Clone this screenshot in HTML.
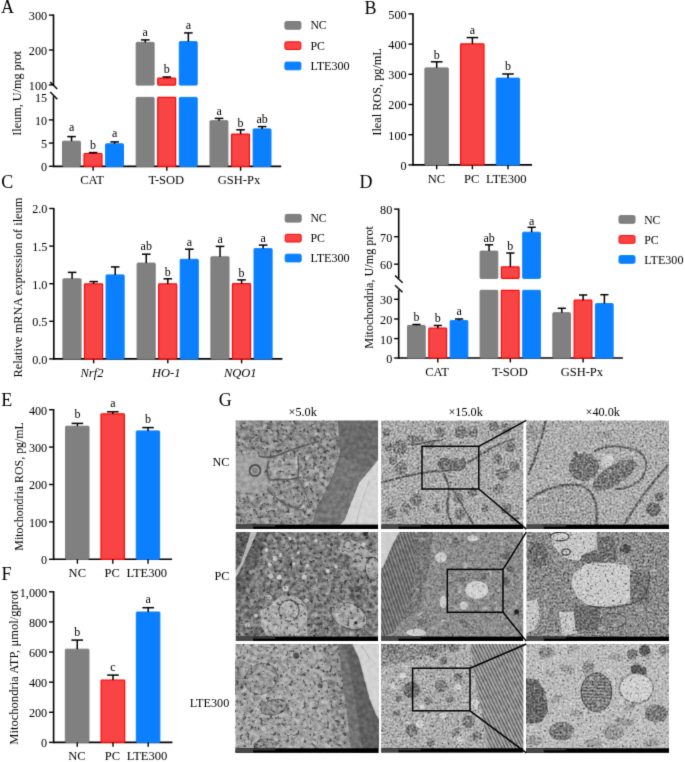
<!DOCTYPE html><html><head><meta charset="utf-8"><style>html,body{margin:0;padding:0;background:#fff;overflow:hidden;}svg{display:block;}#wrap{width:685px;height:762px;will-change:transform;;}text{font-family:"Liberation Serif",serif;fill:#000;}</style></head><body>
<div id="wrap"><svg width="685" height="762" viewBox="0 0 685 762">
<defs><filter id="gblur" x="0" y="0" width="685" height="762" filterUnits="userSpaceOnUse" color-interpolation-filters="sRGB"><feConvolveMatrix order="3" kernelMatrix="0.0144 0.0912 0.0144 0.0912 0.5776 0.0912 0.0144 0.0912 0.0144" edgeMode="duplicate" preserveAlpha="true"/></filter></defs><g filter="url(#gblur)">
<rect width="685" height="762" fill="#fff"/>
<text x="1.00" y="13.40" font-size="18" text-anchor="start">A</text>
<text x="364.40" y="13.50" font-size="18" text-anchor="start">B</text>
<text x="1.20" y="187.60" font-size="18" text-anchor="start">C</text>
<text x="359.60" y="187.60" font-size="18" text-anchor="start">D</text>
<text x="1.20" y="405.70" font-size="18" text-anchor="start">E</text>
<text x="1.40" y="580.00" font-size="18" text-anchor="start">F</text>
<text x="218.80" y="405.70" font-size="18" text-anchor="start">G</text>
<line x1="53.50" y1="14.40" x2="53.50" y2="85.60" stroke="#000" stroke-width="1.6"/>
<line x1="53.50" y1="96.20" x2="53.50" y2="167.20" stroke="#000" stroke-width="1.6"/>
<line x1="50.20" y1="82.00" x2="57.20" y2="89.00" stroke="#000" stroke-width="1.4"/>
<line x1="50.20" y1="92.00" x2="57.40" y2="99.20" stroke="#000" stroke-width="1.4"/>
<line x1="48.90" y1="15.10" x2="53.50" y2="15.10" stroke="#000" stroke-width="1.4"/>
<text x="47.10" y="20.00" font-size="12.2" text-anchor="end">300</text>
<line x1="48.90" y1="50.00" x2="53.50" y2="50.00" stroke="#000" stroke-width="1.4"/>
<text x="47.10" y="54.90" font-size="12.2" text-anchor="end">200</text>
<line x1="48.90" y1="84.90" x2="53.50" y2="84.90" stroke="#000" stroke-width="1.4"/>
<text x="47.10" y="89.80" font-size="12.2" text-anchor="end">100</text>
<text x="47.10" y="101.80" font-size="12.2" text-anchor="end">15</text>
<line x1="48.90" y1="119.90" x2="53.50" y2="119.90" stroke="#000" stroke-width="1.4"/>
<text x="47.10" y="124.80" font-size="12.2" text-anchor="end">10</text>
<line x1="48.90" y1="143.10" x2="53.50" y2="143.10" stroke="#000" stroke-width="1.4"/>
<text x="47.10" y="148.00" font-size="12.2" text-anchor="end">5</text>
<line x1="48.90" y1="166.30" x2="53.50" y2="166.30" stroke="#000" stroke-width="1.4"/>
<text x="47.10" y="171.20" font-size="12.2" text-anchor="end">0</text>
<line x1="53.50" y1="166.40" x2="281.20" y2="166.40" stroke="#000" stroke-width="1.6"/>
<line x1="93.10" y1="166.40" x2="93.10" y2="170.80" stroke="#000" stroke-width="1.4"/>
<text x="92.00" y="184.20" font-size="12.5" text-anchor="middle">CAT</text>
<line x1="166.80" y1="166.40" x2="166.80" y2="170.80" stroke="#000" stroke-width="1.4"/>
<text x="166.30" y="184.20" font-size="12.5" text-anchor="middle">T-SOD</text>
<line x1="240.60" y1="166.40" x2="240.60" y2="170.80" stroke="#000" stroke-width="1.4"/>
<text x="239.00" y="184.20" font-size="12.5" text-anchor="middle">GSH-Px</text>
<rect x="62.50" y="141.20" width="17.90" height="25.20" rx="0.8" fill="#808080" stroke="#7c7c7c" stroke-width="1"/>
<line x1="71.55" y1="136.60" x2="71.55" y2="141.20" stroke="#000" stroke-width="1.5"/>
<line x1="67.25" y1="136.60" x2="75.85" y2="136.60" stroke="#000" stroke-width="1.5"/>
<text x="71.55" y="130.50" font-size="12" text-anchor="middle">a</text>
<rect x="84.05" y="153.50" width="17.90" height="12.90" rx="0.8" fill="#f84444" stroke="#ff0505" stroke-width="1.2"/>
<line x1="93.10" y1="152.60" x2="93.10" y2="153.50" stroke="#000" stroke-width="1.5"/>
<line x1="88.80" y1="152.60" x2="97.40" y2="152.60" stroke="#000" stroke-width="1.5"/>
<text x="93.10" y="148.50" font-size="12" text-anchor="middle">b</text>
<rect x="105.60" y="143.80" width="17.90" height="22.60" rx="0.8" fill="#0a80ff" stroke="#0a80ff" stroke-width="1"/>
<line x1="114.65" y1="141.90" x2="114.65" y2="143.80" stroke="#000" stroke-width="1.5"/>
<line x1="110.35" y1="141.90" x2="118.95" y2="141.90" stroke="#000" stroke-width="1.5"/>
<text x="114.65" y="137.00" font-size="12" text-anchor="middle">a</text>
<rect x="136.20" y="42.40" width="17.90" height="42.70" rx="0.8" fill="#808080" stroke="#7c7c7c" stroke-width="1"/>
<rect x="136.20" y="97.40" width="17.90" height="69.00" rx="0.8" fill="#808080" stroke="#7c7c7c" stroke-width="1"/>
<line x1="145.25" y1="39.90" x2="145.25" y2="42.40" stroke="#000" stroke-width="1.5"/>
<line x1="140.95" y1="39.90" x2="149.55" y2="39.90" stroke="#000" stroke-width="1.5"/>
<text x="145.25" y="35.70" font-size="12" text-anchor="middle">a</text>
<rect x="157.75" y="78.10" width="17.90" height="7.00" rx="0.8" fill="#f84444" stroke="#ff0505" stroke-width="1.2"/>
<rect x="157.75" y="97.40" width="17.90" height="69.00" rx="0.8" fill="#f84444" stroke="#ff0505" stroke-width="1.2"/>
<line x1="166.80" y1="77.00" x2="166.80" y2="78.10" stroke="#000" stroke-width="1.5"/>
<line x1="162.50" y1="77.00" x2="171.10" y2="77.00" stroke="#000" stroke-width="1.5"/>
<text x="166.80" y="73.10" font-size="12" text-anchor="middle">b</text>
<rect x="179.30" y="41.60" width="17.90" height="43.50" rx="0.8" fill="#0a80ff" stroke="#0a80ff" stroke-width="1"/>
<rect x="179.30" y="97.40" width="17.90" height="69.00" rx="0.8" fill="#0a80ff" stroke="#0a80ff" stroke-width="1"/>
<line x1="188.35" y1="32.90" x2="188.35" y2="41.60" stroke="#000" stroke-width="1.5"/>
<line x1="184.05" y1="32.90" x2="192.65" y2="32.90" stroke="#000" stroke-width="1.5"/>
<text x="188.35" y="28.70" font-size="12" text-anchor="middle">a</text>
<rect x="210.00" y="120.70" width="17.90" height="45.70" rx="0.8" fill="#808080" stroke="#7c7c7c" stroke-width="1"/>
<line x1="219.05" y1="118.40" x2="219.05" y2="120.70" stroke="#000" stroke-width="1.5"/>
<line x1="214.75" y1="118.40" x2="223.35" y2="118.40" stroke="#000" stroke-width="1.5"/>
<text x="219.05" y="114.50" font-size="12" text-anchor="middle">a</text>
<rect x="231.55" y="134.10" width="17.90" height="32.30" rx="0.8" fill="#f84444" stroke="#ff0505" stroke-width="1.2"/>
<line x1="240.60" y1="129.80" x2="240.60" y2="134.10" stroke="#000" stroke-width="1.5"/>
<line x1="236.30" y1="129.80" x2="244.90" y2="129.80" stroke="#000" stroke-width="1.5"/>
<text x="240.60" y="127.00" font-size="12" text-anchor="middle">b</text>
<rect x="253.10" y="128.90" width="17.90" height="37.50" rx="0.8" fill="#0a80ff" stroke="#0a80ff" stroke-width="1"/>
<line x1="262.15" y1="126.60" x2="262.15" y2="128.90" stroke="#000" stroke-width="1.5"/>
<line x1="257.85" y1="126.60" x2="266.45" y2="126.60" stroke="#000" stroke-width="1.5"/>
<text x="262.15" y="123.30" font-size="12" text-anchor="middle">ab</text>
<rect x="284.90" y="21.50" width="16.0" height="7.699999999999999" rx="1.5" fill="#808080" stroke="#7c7c7c" stroke-width="1"/>
<text x="310.40" y="29.40" font-size="12.2" text-anchor="start" textLength="16.2" lengthAdjust="spacingAndGlyphs">NC</text>
<rect x="284.90" y="41.80" width="16.0" height="7.699999999999999" rx="1.5" fill="#f84444" stroke="#ff0505" stroke-width="1"/>
<text x="310.40" y="49.70" font-size="12.2" text-anchor="start" textLength="14.5" lengthAdjust="spacingAndGlyphs">PC</text>
<rect x="284.90" y="62.10" width="16.0" height="7.699999999999999" rx="1.5" fill="#0a80ff" stroke="#0a80ff" stroke-width="1"/>
<text x="310.40" y="70.00" font-size="12.2" text-anchor="start" textLength="39.3" lengthAdjust="spacingAndGlyphs">LTE300</text>
<text transform="translate(21.2,93.3) rotate(-90)" font-size="12.4" text-anchor="middle" textLength="85.0" lengthAdjust="spacingAndGlyphs">Ileum, U/mg prot</text>
<line x1="413.00" y1="13.30" x2="413.00" y2="165.70" stroke="#000" stroke-width="1.6"/>
<line x1="408.40" y1="13.90" x2="413.00" y2="13.90" stroke="#000" stroke-width="1.4"/>
<text x="406.60" y="18.80" font-size="12.2" text-anchor="end">500</text>
<line x1="408.40" y1="44.10" x2="413.00" y2="44.10" stroke="#000" stroke-width="1.4"/>
<text x="406.60" y="49.00" font-size="12.2" text-anchor="end">400</text>
<line x1="408.40" y1="74.30" x2="413.00" y2="74.30" stroke="#000" stroke-width="1.4"/>
<text x="406.60" y="79.20" font-size="12.2" text-anchor="end">300</text>
<line x1="408.40" y1="104.50" x2="413.00" y2="104.50" stroke="#000" stroke-width="1.4"/>
<text x="406.60" y="109.40" font-size="12.2" text-anchor="end">200</text>
<line x1="408.40" y1="134.70" x2="413.00" y2="134.70" stroke="#000" stroke-width="1.4"/>
<text x="406.60" y="139.60" font-size="12.2" text-anchor="end">100</text>
<line x1="408.40" y1="164.90" x2="413.00" y2="164.90" stroke="#000" stroke-width="1.4"/>
<text x="406.60" y="169.80" font-size="12.2" text-anchor="end">0</text>
<line x1="413.00" y1="164.90" x2="532.00" y2="164.90" stroke="#000" stroke-width="1.6"/>
<rect x="424.90" y="67.90" width="23.40" height="97.00" rx="0.8" fill="#808080" stroke="#7c7c7c" stroke-width="1"/>
<line x1="436.70" y1="61.80" x2="436.70" y2="67.90" stroke="#000" stroke-width="1.5"/>
<line x1="430.90" y1="61.80" x2="442.50" y2="61.80" stroke="#000" stroke-width="1.5"/>
<text x="436.70" y="58.80" font-size="12" text-anchor="middle">b</text>
<line x1="436.70" y1="164.90" x2="436.70" y2="169.30" stroke="#000" stroke-width="1.4"/>
<rect x="460.60" y="43.90" width="23.40" height="121.00" rx="0.8" fill="#f84444" stroke="#ff0505" stroke-width="1.2"/>
<line x1="472.40" y1="37.60" x2="472.40" y2="43.90" stroke="#000" stroke-width="1.5"/>
<line x1="466.60" y1="37.60" x2="478.20" y2="37.60" stroke="#000" stroke-width="1.5"/>
<text x="472.40" y="34.20" font-size="12" text-anchor="middle">a</text>
<line x1="472.40" y1="164.90" x2="472.40" y2="169.30" stroke="#000" stroke-width="1.4"/>
<rect x="496.20" y="78.10" width="23.40" height="86.80" rx="0.8" fill="#0a80ff" stroke="#0a80ff" stroke-width="1"/>
<line x1="508.00" y1="74.00" x2="508.00" y2="78.10" stroke="#000" stroke-width="1.5"/>
<line x1="502.20" y1="74.00" x2="513.80" y2="74.00" stroke="#000" stroke-width="1.5"/>
<text x="508.00" y="69.80" font-size="12" text-anchor="middle">b</text>
<line x1="508.00" y1="164.90" x2="508.00" y2="169.30" stroke="#000" stroke-width="1.4"/>
<text x="436.40" y="183.30" font-size="12.5" text-anchor="middle">NC</text>
<text x="471.70" y="183.30" font-size="12.5" text-anchor="middle">PC</text>
<text x="506.20" y="183.30" font-size="12.5" text-anchor="middle" textLength="40.6" lengthAdjust="spacingAndGlyphs">LTE300</text>
<text transform="translate(380.8,91.9) rotate(-90)" font-size="12.4" text-anchor="middle" textLength="87.5" lengthAdjust="spacingAndGlyphs">Ileal ROS, pg/mL</text>
<line x1="53.80" y1="207.90" x2="53.80" y2="359.70" stroke="#000" stroke-width="1.6"/>
<line x1="49.20" y1="208.50" x2="53.80" y2="208.50" stroke="#000" stroke-width="1.4"/>
<text x="47.40" y="213.40" font-size="12.2" text-anchor="end">2.0</text>
<line x1="49.20" y1="246.10" x2="53.80" y2="246.10" stroke="#000" stroke-width="1.4"/>
<text x="47.40" y="251.00" font-size="12.2" text-anchor="end">1.5</text>
<line x1="49.20" y1="283.70" x2="53.80" y2="283.70" stroke="#000" stroke-width="1.4"/>
<text x="47.40" y="288.60" font-size="12.2" text-anchor="end">1.0</text>
<line x1="49.20" y1="321.30" x2="53.80" y2="321.30" stroke="#000" stroke-width="1.4"/>
<text x="47.40" y="326.20" font-size="12.2" text-anchor="end">0.5</text>
<line x1="49.20" y1="358.90" x2="53.80" y2="358.90" stroke="#000" stroke-width="1.4"/>
<text x="47.40" y="363.80" font-size="12.2" text-anchor="end">0.0</text>
<line x1="53.80" y1="358.90" x2="282.40" y2="358.90" stroke="#000" stroke-width="1.6"/>
<line x1="93.65" y1="358.90" x2="93.65" y2="363.30" stroke="#000" stroke-width="1.4"/>
<text x="92.00" y="376.90" font-size="12.5" text-anchor="middle" font-style="italic">Nrf2</text>
<line x1="167.80" y1="358.90" x2="167.80" y2="363.30" stroke="#000" stroke-width="1.4"/>
<text x="166.30" y="376.90" font-size="12.5" text-anchor="middle" font-style="italic">HO-1</text>
<line x1="241.60" y1="358.90" x2="241.60" y2="363.30" stroke="#000" stroke-width="1.4"/>
<text x="240.30" y="376.90" font-size="12.5" text-anchor="middle" font-style="italic">NQO1</text>
<rect x="62.95" y="278.80" width="18.10" height="80.10" rx="0.8" fill="#808080" stroke="#7c7c7c" stroke-width="1"/>
<line x1="72.10" y1="272.40" x2="72.10" y2="278.80" stroke="#000" stroke-width="1.5"/>
<line x1="67.80" y1="272.40" x2="76.40" y2="272.40" stroke="#000" stroke-width="1.5"/>
<rect x="84.50" y="283.90" width="18.10" height="75.00" rx="0.8" fill="#f84444" stroke="#ff0505" stroke-width="1.2"/>
<line x1="93.65" y1="281.60" x2="93.65" y2="283.90" stroke="#000" stroke-width="1.5"/>
<line x1="89.35" y1="281.60" x2="97.95" y2="281.60" stroke="#000" stroke-width="1.5"/>
<rect x="106.05" y="274.90" width="18.10" height="84.00" rx="0.8" fill="#0a80ff" stroke="#0a80ff" stroke-width="1"/>
<line x1="115.20" y1="266.90" x2="115.20" y2="274.90" stroke="#000" stroke-width="1.5"/>
<line x1="110.90" y1="266.90" x2="119.50" y2="266.90" stroke="#000" stroke-width="1.5"/>
<rect x="137.10" y="263.10" width="18.10" height="95.80" rx="0.8" fill="#808080" stroke="#7c7c7c" stroke-width="1"/>
<line x1="146.25" y1="254.20" x2="146.25" y2="263.10" stroke="#000" stroke-width="1.5"/>
<line x1="141.95" y1="254.20" x2="150.55" y2="254.20" stroke="#000" stroke-width="1.5"/>
<text x="146.25" y="250.40" font-size="12" text-anchor="middle">ab</text>
<rect x="158.65" y="283.90" width="18.10" height="75.00" rx="0.8" fill="#f84444" stroke="#ff0505" stroke-width="1.2"/>
<line x1="167.80" y1="278.80" x2="167.80" y2="283.90" stroke="#000" stroke-width="1.5"/>
<line x1="163.50" y1="278.80" x2="172.10" y2="278.80" stroke="#000" stroke-width="1.5"/>
<text x="167.80" y="275.70" font-size="12" text-anchor="middle">b</text>
<rect x="180.20" y="259.30" width="18.10" height="99.60" rx="0.8" fill="#0a80ff" stroke="#0a80ff" stroke-width="1"/>
<line x1="189.35" y1="249.20" x2="189.35" y2="259.30" stroke="#000" stroke-width="1.5"/>
<line x1="185.05" y1="249.20" x2="193.65" y2="249.20" stroke="#000" stroke-width="1.5"/>
<text x="189.35" y="246.20" font-size="12" text-anchor="middle">a</text>
<rect x="210.90" y="256.80" width="18.10" height="102.10" rx="0.8" fill="#808080" stroke="#7c7c7c" stroke-width="1"/>
<line x1="220.05" y1="246.40" x2="220.05" y2="256.80" stroke="#000" stroke-width="1.5"/>
<line x1="215.75" y1="246.40" x2="224.35" y2="246.40" stroke="#000" stroke-width="1.5"/>
<text x="220.05" y="242.70" font-size="12" text-anchor="middle">a</text>
<rect x="232.45" y="283.70" width="18.10" height="75.20" rx="0.8" fill="#f84444" stroke="#ff0505" stroke-width="1.2"/>
<line x1="241.60" y1="279.90" x2="241.60" y2="283.70" stroke="#000" stroke-width="1.5"/>
<line x1="237.30" y1="279.90" x2="245.90" y2="279.90" stroke="#000" stroke-width="1.5"/>
<text x="241.60" y="277.10" font-size="12" text-anchor="middle">b</text>
<rect x="254.00" y="248.60" width="18.10" height="110.30" rx="0.8" fill="#0a80ff" stroke="#0a80ff" stroke-width="1"/>
<line x1="263.15" y1="245.10" x2="263.15" y2="248.60" stroke="#000" stroke-width="1.5"/>
<line x1="258.85" y1="245.10" x2="267.45" y2="245.10" stroke="#000" stroke-width="1.5"/>
<text x="263.15" y="242.10" font-size="12" text-anchor="middle">a</text>
<rect x="285.20" y="214.40" width="16.0" height="7.699999999999999" rx="1.5" fill="#808080" stroke="#7c7c7c" stroke-width="1"/>
<text x="310.40" y="222.30" font-size="12.2" text-anchor="start" textLength="16.2" lengthAdjust="spacingAndGlyphs">NC</text>
<rect x="285.20" y="234.30" width="16.0" height="7.699999999999999" rx="1.5" fill="#f84444" stroke="#ff0505" stroke-width="1"/>
<text x="310.40" y="242.20" font-size="12.2" text-anchor="start" textLength="14.5" lengthAdjust="spacingAndGlyphs">PC</text>
<rect x="285.20" y="254.20" width="16.0" height="7.699999999999999" rx="1.5" fill="#0a80ff" stroke="#0a80ff" stroke-width="1"/>
<text x="310.40" y="262.10" font-size="12.2" text-anchor="start" textLength="39.3" lengthAdjust="spacingAndGlyphs">LTE300</text>
<text transform="translate(21.6,287.6) rotate(-90)" font-size="12.4" text-anchor="middle" textLength="180.0" lengthAdjust="spacingAndGlyphs">Relative mRNA expression of ileum</text>
<line x1="398.70" y1="208.50" x2="398.70" y2="278.30" stroke="#000" stroke-width="1.6"/>
<line x1="398.70" y1="289.60" x2="398.70" y2="358.80" stroke="#000" stroke-width="1.6"/>
<line x1="395.00" y1="275.50" x2="402.60" y2="282.80" stroke="#000" stroke-width="1.4"/>
<line x1="395.00" y1="285.20" x2="402.60" y2="292.30" stroke="#000" stroke-width="1.4"/>
<line x1="394.10" y1="209.10" x2="398.70" y2="209.10" stroke="#000" stroke-width="1.4"/>
<text x="392.30" y="214.00" font-size="12.2" text-anchor="end">80</text>
<line x1="394.10" y1="236.70" x2="398.70" y2="236.70" stroke="#000" stroke-width="1.4"/>
<text x="392.30" y="241.60" font-size="12.2" text-anchor="end">70</text>
<line x1="394.10" y1="264.20" x2="398.70" y2="264.20" stroke="#000" stroke-width="1.4"/>
<text x="392.30" y="269.10" font-size="12.2" text-anchor="end">60</text>
<line x1="394.10" y1="299.30" x2="398.70" y2="299.30" stroke="#000" stroke-width="1.4"/>
<text x="392.30" y="304.20" font-size="12.2" text-anchor="end">30</text>
<line x1="394.10" y1="319.00" x2="398.70" y2="319.00" stroke="#000" stroke-width="1.4"/>
<text x="392.30" y="323.90" font-size="12.2" text-anchor="end">20</text>
<line x1="394.10" y1="338.60" x2="398.70" y2="338.60" stroke="#000" stroke-width="1.4"/>
<text x="392.30" y="343.50" font-size="12.2" text-anchor="end">10</text>
<line x1="394.10" y1="358.00" x2="398.70" y2="358.00" stroke="#000" stroke-width="1.4"/>
<text x="392.30" y="362.90" font-size="12.2" text-anchor="end">0</text>
<line x1="398.70" y1="358.00" x2="622.90" y2="358.00" stroke="#000" stroke-width="1.6"/>
<line x1="437.80" y1="358.00" x2="437.80" y2="362.40" stroke="#000" stroke-width="1.4"/>
<text x="437.00" y="375.80" font-size="12.5" text-anchor="middle">CAT</text>
<line x1="510.35" y1="358.00" x2="510.35" y2="362.40" stroke="#000" stroke-width="1.4"/>
<text x="510.00" y="375.80" font-size="12.5" text-anchor="middle">T-SOD</text>
<line x1="583.10" y1="358.00" x2="583.10" y2="362.40" stroke="#000" stroke-width="1.4"/>
<text x="581.90" y="375.80" font-size="12.5" text-anchor="middle">GSH-Px</text>
<rect x="407.55" y="325.40" width="17.70" height="32.60" rx="0.8" fill="#808080" stroke="#7c7c7c" stroke-width="1"/>
<line x1="416.50" y1="324.50" x2="416.50" y2="325.40" stroke="#000" stroke-width="1.5"/>
<line x1="412.40" y1="324.50" x2="420.60" y2="324.50" stroke="#000" stroke-width="1.5"/>
<text x="416.50" y="321.20" font-size="12" text-anchor="middle">b</text>
<rect x="428.85" y="328.20" width="17.70" height="29.80" rx="0.8" fill="#f84444" stroke="#ff0505" stroke-width="1.2"/>
<line x1="437.80" y1="325.50" x2="437.80" y2="328.20" stroke="#000" stroke-width="1.5"/>
<line x1="433.70" y1="325.50" x2="441.90" y2="325.50" stroke="#000" stroke-width="1.5"/>
<text x="437.80" y="322.10" font-size="12" text-anchor="middle">b</text>
<rect x="450.15" y="320.60" width="17.70" height="37.40" rx="0.8" fill="#0a80ff" stroke="#0a80ff" stroke-width="1"/>
<line x1="459.10" y1="319.00" x2="459.10" y2="320.60" stroke="#000" stroke-width="1.5"/>
<line x1="455.00" y1="319.00" x2="463.20" y2="319.00" stroke="#000" stroke-width="1.5"/>
<text x="459.10" y="315.10" font-size="12" text-anchor="middle">a</text>
<rect x="480.10" y="251.10" width="17.70" height="27.30" rx="0.8" fill="#808080" stroke="#7c7c7c" stroke-width="1"/>
<rect x="480.10" y="290.30" width="17.70" height="67.70" rx="0.8" fill="#808080" stroke="#7c7c7c" stroke-width="1"/>
<line x1="489.05" y1="244.80" x2="489.05" y2="251.10" stroke="#000" stroke-width="1.5"/>
<line x1="484.95" y1="244.80" x2="493.15" y2="244.80" stroke="#000" stroke-width="1.5"/>
<text x="489.05" y="241.50" font-size="12" text-anchor="middle">ab</text>
<rect x="501.40" y="266.90" width="17.70" height="11.50" rx="0.8" fill="#f84444" stroke="#ff0505" stroke-width="1.2"/>
<rect x="501.40" y="290.30" width="17.70" height="67.70" rx="0.8" fill="#f84444" stroke="#ff0505" stroke-width="1.2"/>
<line x1="510.35" y1="253.00" x2="510.35" y2="266.90" stroke="#000" stroke-width="1.5"/>
<line x1="506.25" y1="253.00" x2="514.45" y2="253.00" stroke="#000" stroke-width="1.5"/>
<text x="510.35" y="249.60" font-size="12" text-anchor="middle">b</text>
<rect x="522.70" y="232.20" width="17.70" height="46.20" rx="0.8" fill="#0a80ff" stroke="#0a80ff" stroke-width="1"/>
<rect x="522.70" y="290.30" width="17.70" height="67.70" rx="0.8" fill="#0a80ff" stroke="#0a80ff" stroke-width="1"/>
<line x1="531.65" y1="227.30" x2="531.65" y2="232.20" stroke="#000" stroke-width="1.5"/>
<line x1="527.55" y1="227.30" x2="535.75" y2="227.30" stroke="#000" stroke-width="1.5"/>
<text x="531.65" y="224.50" font-size="12" text-anchor="middle">a</text>
<rect x="552.85" y="312.70" width="17.70" height="45.30" rx="0.8" fill="#808080" stroke="#7c7c7c" stroke-width="1"/>
<line x1="561.80" y1="308.30" x2="561.80" y2="312.70" stroke="#000" stroke-width="1.5"/>
<line x1="557.70" y1="308.30" x2="565.90" y2="308.30" stroke="#000" stroke-width="1.5"/>
<rect x="574.15" y="300.20" width="17.70" height="57.80" rx="0.8" fill="#f84444" stroke="#ff0505" stroke-width="1.2"/>
<line x1="583.10" y1="295.00" x2="583.10" y2="300.20" stroke="#000" stroke-width="1.5"/>
<line x1="579.00" y1="295.00" x2="587.20" y2="295.00" stroke="#000" stroke-width="1.5"/>
<rect x="595.45" y="303.60" width="17.70" height="54.40" rx="0.8" fill="#0a80ff" stroke="#0a80ff" stroke-width="1"/>
<line x1="604.40" y1="294.70" x2="604.40" y2="303.60" stroke="#000" stroke-width="1.5"/>
<line x1="600.30" y1="294.70" x2="608.50" y2="294.70" stroke="#000" stroke-width="1.5"/>
<rect x="619.00" y="215.60" width="16.0" height="7.699999999999999" rx="1.5" fill="#808080" stroke="#7c7c7c" stroke-width="1"/>
<text x="644.20" y="223.50" font-size="12.2" text-anchor="start" textLength="16.2" lengthAdjust="spacingAndGlyphs">NC</text>
<rect x="619.00" y="235.60" width="16.0" height="7.699999999999999" rx="1.5" fill="#f84444" stroke="#ff0505" stroke-width="1"/>
<text x="644.20" y="243.50" font-size="12.2" text-anchor="start" textLength="14.5" lengthAdjust="spacingAndGlyphs">PC</text>
<rect x="619.00" y="255.60" width="16.0" height="7.699999999999999" rx="1.5" fill="#0a80ff" stroke="#0a80ff" stroke-width="1"/>
<text x="644.20" y="263.50" font-size="12.2" text-anchor="start" textLength="39.3" lengthAdjust="spacingAndGlyphs">LTE300</text>
<text transform="translate(373.3,287.4) rotate(-90)" font-size="12.3" text-anchor="middle" textLength="122.5" lengthAdjust="spacingAndGlyphs">Mitochondria, U/mg prot</text>
<line x1="53.60" y1="409.00" x2="53.60" y2="560.10" stroke="#000" stroke-width="1.6"/>
<line x1="49.00" y1="409.70" x2="53.60" y2="409.70" stroke="#000" stroke-width="1.4"/>
<text x="47.20" y="414.60" font-size="12.2" text-anchor="end">400</text>
<line x1="49.00" y1="447.10" x2="53.60" y2="447.10" stroke="#000" stroke-width="1.4"/>
<text x="47.20" y="452.00" font-size="12.2" text-anchor="end">300</text>
<line x1="49.00" y1="484.50" x2="53.60" y2="484.50" stroke="#000" stroke-width="1.4"/>
<text x="47.20" y="489.40" font-size="12.2" text-anchor="end">200</text>
<line x1="49.00" y1="521.90" x2="53.60" y2="521.90" stroke="#000" stroke-width="1.4"/>
<text x="47.20" y="526.80" font-size="12.2" text-anchor="end">100</text>
<line x1="49.00" y1="559.30" x2="53.60" y2="559.30" stroke="#000" stroke-width="1.4"/>
<text x="47.20" y="564.20" font-size="12.2" text-anchor="end">0</text>
<line x1="53.60" y1="559.30" x2="172.10" y2="559.30" stroke="#000" stroke-width="1.6"/>
<rect x="65.60" y="426.20" width="23.40" height="133.10" rx="0.8" fill="#808080" stroke="#7c7c7c" stroke-width="1"/>
<line x1="77.40" y1="423.40" x2="77.40" y2="426.20" stroke="#000" stroke-width="1.5"/>
<line x1="71.60" y1="423.40" x2="83.20" y2="423.40" stroke="#000" stroke-width="1.5"/>
<text x="77.40" y="418.30" font-size="12" text-anchor="middle">b</text>
<line x1="77.40" y1="559.30" x2="77.40" y2="563.70" stroke="#000" stroke-width="1.4"/>
<rect x="101.00" y="413.90" width="23.40" height="145.40" rx="0.8" fill="#f84444" stroke="#ff0505" stroke-width="1.2"/>
<line x1="112.80" y1="411.80" x2="112.80" y2="413.90" stroke="#000" stroke-width="1.5"/>
<line x1="107.00" y1="411.80" x2="118.60" y2="411.80" stroke="#000" stroke-width="1.5"/>
<text x="112.80" y="406.50" font-size="12" text-anchor="middle">a</text>
<line x1="112.80" y1="559.30" x2="112.80" y2="563.70" stroke="#000" stroke-width="1.4"/>
<rect x="136.25" y="430.90" width="23.40" height="128.40" rx="0.8" fill="#0a80ff" stroke="#0a80ff" stroke-width="1"/>
<line x1="148.05" y1="427.60" x2="148.05" y2="430.90" stroke="#000" stroke-width="1.5"/>
<line x1="142.25" y1="427.60" x2="153.85" y2="427.60" stroke="#000" stroke-width="1.5"/>
<text x="148.05" y="422.60" font-size="12" text-anchor="middle">b</text>
<line x1="148.05" y1="559.30" x2="148.05" y2="563.70" stroke="#000" stroke-width="1.4"/>
<text x="77.30" y="576.50" font-size="12.5" text-anchor="middle">NC</text>
<text x="112.20" y="576.50" font-size="12.5" text-anchor="middle">PC</text>
<text x="146.70" y="576.50" font-size="12.5" text-anchor="middle" textLength="40.6" lengthAdjust="spacingAndGlyphs">LTE300</text>
<text transform="translate(22.8,486.4) rotate(-90)" font-size="12.2" text-anchor="middle" textLength="128.5" lengthAdjust="spacingAndGlyphs">Mitochondria ROS, pg/mL</text>
<line x1="53.60" y1="591.10" x2="53.60" y2="743.20" stroke="#000" stroke-width="1.6"/>
<line x1="49.00" y1="591.80" x2="53.60" y2="591.80" stroke="#000" stroke-width="1.4"/>
<text x="47.20" y="596.70" font-size="12.2" text-anchor="end">1,000</text>
<line x1="49.00" y1="621.92" x2="53.60" y2="621.92" stroke="#000" stroke-width="1.4"/>
<text x="47.20" y="626.82" font-size="12.2" text-anchor="end">800</text>
<line x1="49.00" y1="652.04" x2="53.60" y2="652.04" stroke="#000" stroke-width="1.4"/>
<text x="47.20" y="656.94" font-size="12.2" text-anchor="end">600</text>
<line x1="49.00" y1="682.16" x2="53.60" y2="682.16" stroke="#000" stroke-width="1.4"/>
<text x="47.20" y="687.06" font-size="12.2" text-anchor="end">400</text>
<line x1="49.00" y1="712.28" x2="53.60" y2="712.28" stroke="#000" stroke-width="1.4"/>
<text x="47.20" y="717.18" font-size="12.2" text-anchor="end">200</text>
<line x1="49.00" y1="742.40" x2="53.60" y2="742.40" stroke="#000" stroke-width="1.4"/>
<text x="47.20" y="747.30" font-size="12.2" text-anchor="end">0</text>
<line x1="53.60" y1="742.40" x2="172.40" y2="742.40" stroke="#000" stroke-width="1.6"/>
<rect x="65.35" y="649.20" width="23.60" height="93.20" rx="0.8" fill="#808080" stroke="#7c7c7c" stroke-width="1"/>
<line x1="77.25" y1="640.10" x2="77.25" y2="649.20" stroke="#000" stroke-width="1.5"/>
<line x1="71.45" y1="640.10" x2="83.05" y2="640.10" stroke="#000" stroke-width="1.5"/>
<text x="77.25" y="635.70" font-size="12" text-anchor="middle">b</text>
<line x1="77.25" y1="742.40" x2="77.25" y2="746.70" stroke="#000" stroke-width="1.4"/>
<rect x="101.10" y="680.00" width="23.60" height="62.40" rx="0.8" fill="#f84444" stroke="#ff0505" stroke-width="1.2"/>
<line x1="113.00" y1="675.10" x2="113.00" y2="680.00" stroke="#000" stroke-width="1.5"/>
<line x1="107.20" y1="675.10" x2="118.80" y2="675.10" stroke="#000" stroke-width="1.5"/>
<text x="113.00" y="670.70" font-size="12" text-anchor="middle">c</text>
<line x1="113.00" y1="742.40" x2="113.00" y2="746.70" stroke="#000" stroke-width="1.4"/>
<rect x="136.30" y="612.00" width="23.60" height="130.40" rx="0.8" fill="#0a80ff" stroke="#0a80ff" stroke-width="1"/>
<line x1="148.20" y1="607.70" x2="148.20" y2="612.00" stroke="#000" stroke-width="1.5"/>
<line x1="142.40" y1="607.70" x2="154.00" y2="607.70" stroke="#000" stroke-width="1.5"/>
<text x="148.20" y="603.30" font-size="12" text-anchor="middle">a</text>
<line x1="148.20" y1="742.40" x2="148.20" y2="746.70" stroke="#000" stroke-width="1.4"/>
<text x="77.00" y="759.60" font-size="12.5" text-anchor="middle">NC</text>
<text x="112.50" y="759.60" font-size="12.5" text-anchor="middle">PC</text>
<text x="147.00" y="759.60" font-size="12.5" text-anchor="middle" textLength="40.6" lengthAdjust="spacingAndGlyphs">LTE300</text>
<text transform="translate(18.3,667.5) rotate(-90)" font-size="12.4" text-anchor="middle" textLength="154.5" lengthAdjust="spacingAndGlyphs">Mitochondria ATP, μmol/gprot</text>
<defs>
<filter id="tex" x="0" y="0" width="1" height="1" color-interpolation-filters="sRGB">
<feTurbulence type="fractalNoise" baseFrequency="0.22" numOctaves="3" seed="7"/>
<feColorMatrix type="matrix" values="2.2 0 0 0 -0.6  2.2 0 0 0 -0.6  2.2 0 0 0 -0.6  0 0 0 0 1"/>
<feGaussianBlur stdDeviation="0.6"/>
</filter>
<filter id="spk" x="0" y="0" width="1" height="1" color-interpolation-filters="sRGB">
<feTurbulence type="fractalNoise" baseFrequency="0.3" numOctaves="2" seed="3"/>
<feColorMatrix type="matrix" values="0 0 0 0 0  0 0 0 0 0  0 0 0 0 0  7 0 0 0 -4.1"/>
<feGaussianBlur stdDeviation="0.5"/>
</filter>
<filter id="spkw" x="0" y="0" width="1" height="1" color-interpolation-filters="sRGB">
<feTurbulence type="fractalNoise" baseFrequency="0.16" numOctaves="2" seed="11"/>
<feColorMatrix type="matrix" values="0 0 0 0 1  0 0 0 0 1  0 0 0 0 1  5 0 0 0 -3.0"/>
<feGaussianBlur stdDeviation="0.7"/>
</filter>
<filter id="texf" x="0" y="0" width="1" height="1" color-interpolation-filters="sRGB">
<feTurbulence type="fractalNoise" baseFrequency="0.5" numOctaves="2" seed="5"/>
<feColorMatrix type="matrix" values="2.6 0 0 0 -0.8  2.6 0 0 0 -0.8  2.6 0 0 0 -0.8  0 0 0 0 1"/>
<feGaussianBlur stdDeviation="0.35"/>
</filter>
<filter id="spkf" x="0" y="0" width="1" height="1" color-interpolation-filters="sRGB">
<feTurbulence type="fractalNoise" baseFrequency="0.4" numOctaves="2" seed="9"/>
<feColorMatrix type="matrix" values="0 0 0 0 0  0 0 0 0 0  0 0 0 0 0  5 0 0 0 -2.9"/>
<feGaussianBlur stdDeviation="0.45"/>
</filter>
<linearGradient id="gband" x1="0" y1="0" x2="1" y2="0"><stop offset="0" stop-color="#8c8c8c"/><stop offset="0.6" stop-color="#6c6c6c"/><stop offset="1" stop-color="#626262"/></linearGradient>
<filter id="bl" x="-5%" y="-5%" width="110%" height="110%"><feGaussianBlur stdDeviation="3"/></filter>
<clipPath id="c00"><rect x="235.7" y="420.4" width="142.4" height="108.7"/></clipPath>
<clipPath id="c01"><rect x="381.1" y="420.4" width="142.3" height="108.7"/></clipPath>
<clipPath id="c02"><rect x="526.3" y="420.4" width="142.7" height="108.7"/></clipPath>
<clipPath id="c10"><rect x="235.7" y="532.1" width="142.4" height="109.0"/></clipPath>
<clipPath id="c11"><rect x="381.1" y="532.1" width="142.3" height="109.0"/></clipPath>
<clipPath id="c12"><rect x="526.3" y="532.1" width="142.7" height="109.0"/></clipPath>
<clipPath id="c20"><rect x="235.7" y="644" width="142.4" height="108.8"/></clipPath>
<clipPath id="c21"><rect x="381.1" y="644" width="142.3" height="108.8"/></clipPath>
<clipPath id="c22"><rect x="526.3" y="644" width="142.7" height="108.8"/></clipPath>
</defs>
<g clip-path="url(#c00)">
<rect x="235.7" y="420.4" width="142.4" height="108.7" fill="#919191"/>
<g transform="translate(235,420) scale(0.21022)" filter="url(#bl)">
<path d="M0,0 L490,0 L500,170 L440,200 L300,140 L150,150 L0,150Z" fill="#8a8a8a" />
<path d="M165,195 L230,180 L300,170 L310,280 L240,290 L175,280Z" fill="#9e9e9e" />
</g>
<rect x="235.7" y="420.4" width="142.4" height="108.7" filter="url(#spk)" opacity="0.45"/>
<rect x="235.7" y="420.4" width="142.4" height="108.7" filter="url(#spkw)" opacity="0.3"/>
<rect x="235.7" y="420.4" width="142.4" height="108.7" filter="url(#tex)" style="mix-blend-mode:overlay" opacity="0.14"/>
<g transform="translate(235,420) scale(0.21022)" filter="url(#bl)">
<path d="M0,170 L110,160 L160,190 L140,250 L150,330 L100,350 L20,345 L0,320Z" fill="#a6a6a6" opacity="0.8"/>
<circle cx="95" cy="240" r="26" fill="none" stroke="#505050" stroke-width="9"/>
<circle cx="95" cy="240" r="14" fill="#7a7a7a" />
<path d="M110,170 C160,190 200,170 250,150 C300,130 350,115 400,100" fill="none" stroke="#5a5a5a" stroke-width="8" />
<path d="M160,195 C150,230 150,260 165,285 C210,280 260,290 300,275" fill="none" stroke="#5a5a5a" stroke-width="8" />
<path d="M300,275 C305,240 300,200 300,170" fill="none" stroke="#5e5e5e" stroke-width="7" />
<path d="M300,275 C330,330 350,380 360,420" fill="none" stroke="#666" stroke-width="7" />
<path d="M150,330 C200,380 260,420 330,430" fill="none" stroke="#666" stroke-width="7" />
<path d="M490,0 L685,0 L685,185 L590,300 L520,480 L500,500 L370,500 L390,420 L440,330 L500,170Z" fill="#747474" />
<path d="M490,0 L685,0 L685,185 L610,230 L500,170Z" fill="#6b6b6b" />
<path d="M500,170 C480,250 440,330 390,420 L370,500" fill="none" stroke="#666" stroke-width="5" />
<path d="M685,185 L685,500 L500,500 L520,480 L590,300Z" fill="#d3d3d3" />
<path d="M640,290 C610,360 590,430 575,500" fill="none" stroke="#aaa" stroke-width="3" />
</g>
<rect x="235.7" y="420.4" width="142.4" height="108.7" filter="url(#tex)" style="mix-blend-mode:overlay" opacity="0.13"/>
<rect x="235.7" y="524.6" width="142.4" height="4.5" fill="#000"/>
<rect x="235.7" y="524.6" width="17.5" height="4.5" fill="#474747"/>
<rect x="253.2" y="524.6" width="22" height="2.1" fill="#383838"/>
</g>
<g clip-path="url(#c01)">
<rect x="381.1" y="420.4" width="142.3" height="108.7" fill="#aaaaaa"/>
<g transform="translate(380,420) scale(0.21022)" filter="url(#bl)">
<circle cx="95" cy="130" r="35" fill="#7e7e7e" />
<circle cx="150" cy="95" r="25" fill="#7e7e7e" />
<circle cx="40" cy="130" r="20" fill="#7e7e7e" />
<circle cx="190" cy="95" r="20" fill="#7e7e7e" />
<circle cx="100" cy="230" r="30" fill="#7e7e7e" />
<circle cx="60" cy="195" r="20" fill="#7e7e7e" />
<circle cx="285" cy="60" r="25" fill="#7e7e7e" />
<circle cx="385" cy="60" r="30" fill="#7e7e7e" />
<circle cx="440" cy="55" r="25" fill="#7e7e7e" />
<circle cx="540" cy="30" r="25" fill="#7e7e7e" />
<circle cx="600" cy="40" r="25" fill="#7e7e7e" />
<circle cx="620" cy="130" r="25" fill="#7e7e7e" />
<circle cx="560" cy="185" r="25" fill="#7e7e7e" />
<circle cx="640" cy="220" r="25" fill="#7e7e7e" />
<circle cx="580" cy="260" r="30" fill="#7e7e7e" />
<circle cx="560" cy="330" r="25" fill="#7e7e7e" />
<circle cx="440" cy="345" r="22" fill="#7e7e7e" />
<circle cx="370" cy="370" r="25" fill="#7e7e7e" />
<circle cx="380" cy="450" r="25" fill="#7e7e7e" />
<circle cx="170" cy="380" r="30" fill="#7e7e7e" />
<circle cx="600" cy="420" r="25" fill="#7e7e7e" />
<circle cx="640" cy="470" r="20" fill="#7e7e7e" />
<circle cx="50" cy="440" r="30" fill="#7e7e7e" />
<circle cx="120" cy="420" r="25" fill="#7e7e7e" />
<circle cx="240" cy="120" r="18" fill="#7e7e7e" />
<circle cx="30" cy="60" r="20" fill="#7e7e7e" />
<circle cx="500" cy="420" r="18" fill="#7e7e7e" />
<circle cx="270" cy="420" r="20" fill="#7e7e7e" />
<ellipse cx="310" cy="210" rx="36" ry="32" fill="#707070" />
<ellipse cx="372" cy="212" rx="40" ry="30" fill="#707070" transform="rotate(-20 372 212)" />
<path d="M0,300 C80,275 170,255 250,245 C300,240 340,245 380,225 C430,200 470,170 510,145 C560,115 600,100 640,90" fill="none" stroke="#808080" stroke-width="13" />
<path d="M0,300 C80,275 170,255 250,245 C300,240 340,245 380,225 C430,200 470,170 510,145 C560,115 600,100 640,90" fill="none" stroke="#505050" stroke-width="4.5" />
<path d="M300,250 C325,290 335,335 322,380 C312,430 330,470 345,500" fill="none" stroke="#808080" stroke-width="13" />
<path d="M300,250 C325,290 335,335 322,380 C312,430 330,470 345,500" fill="none" stroke="#505050" stroke-width="4.5" />
<path d="M345,325 C370,370 400,420 445,500" fill="none" stroke="#808080" stroke-width="11" />
<path d="M345,325 C370,370 400,420 445,500" fill="none" stroke="#505050" stroke-width="4.5" />
<path d="M150,120 C200,110 250,100 300,95" fill="none" stroke="#808080" stroke-width="10" />
<path d="M150,120 C200,110 250,100 300,95" fill="none" stroke="#505050" stroke-width="4.5" />
</g>
<rect x="381.1" y="420.4" width="142.3" height="108.7" filter="url(#spkf)" opacity="0.3"/>
<rect x="381.1" y="420.4" width="142.3" height="108.7" filter="url(#spkw)" opacity="0.3"/>
<rect x="381.1" y="420.4" width="142.3" height="108.7" filter="url(#texf)" style="mix-blend-mode:overlay" opacity="0.34"/>
<rect x="381.1" y="524.6" width="142.3" height="4.5" fill="#000"/>
<rect x="381.1" y="524.6" width="17.5" height="4.5" fill="#474747"/>
<rect x="398.6" y="524.6" width="22" height="2.1" fill="#383838"/>
</g>
<g clip-path="url(#c02)">
<rect x="526.3" y="420.4" width="142.7" height="108.7" fill="#aeaeae"/>
<g transform="translate(525,420) scale(0.21022)" filter="url(#bl)">
<path d="M0,400 L60,340 L160,305 L260,310 L320,360 L335,500 L0,500Z" fill="#a4a4a4" />
<ellipse cx="30" cy="60" rx="40" ry="45" fill="#9c9c9c" />
<ellipse cx="380" cy="70" rx="35" ry="18" fill="#9c9c9c" />
<path d="M0,395 C60,340 150,305 240,308 C300,312 335,360 340,430 L342,500" fill="none" stroke="#808080" stroke-width="15" />
<path d="M0,395 C60,340 150,305 240,308 C300,312 335,360 340,430 L342,500" fill="none" stroke="#505050" stroke-width="4.5" />
<path d="M100,0 C80,80 60,160 15,260" fill="none" stroke="#808080" stroke-width="14" />
<path d="M100,0 C80,80 60,160 15,260" fill="none" stroke="#505050" stroke-width="4.5" />
<path d="M330,150 C380,120 450,120 520,140 C580,160 590,220 560,270 C520,320 470,330 430,330" fill="none" stroke="#808080" stroke-width="12" />
<path d="M330,150 C380,120 450,120 520,140 C580,160 590,220 560,270 C520,320 470,330 430,330" fill="none" stroke="#505050" stroke-width="4.5" />
<path d="M685,210 C600,300 540,380 470,500" fill="none" stroke="#808080" stroke-width="14" />
<path d="M685,210 C600,300 540,380 470,500" fill="none" stroke="#505050" stroke-width="4.5" />
<ellipse cx="280" cy="225" rx="72" ry="66" fill="#767676" />
<ellipse cx="425" cy="262" rx="118" ry="46" fill="#767676" transform="rotate(-32 425 262)" />
<circle cx="390" cy="190" r="32" fill="#c6c6c6" />
<circle cx="610" cy="425" r="34" fill="#707070" />
<circle cx="638" cy="365" r="22" fill="#707070" />
<circle cx="240" cy="160" r="11" fill="#555" />
</g>
<rect x="526.3" y="420.4" width="142.7" height="108.7" filter="url(#spkf)" opacity="0.3"/>
<rect x="526.3" y="420.4" width="142.7" height="108.7" filter="url(#spkw)" opacity="0.3"/>
<rect x="526.3" y="420.4" width="142.7" height="108.7" filter="url(#texf)" style="mix-blend-mode:overlay" opacity="0.34"/>
<rect x="526.3" y="524.6" width="142.7" height="4.5" fill="#000"/>
<rect x="526.3" y="524.6" width="17.5" height="4.5" fill="#474747"/>
<rect x="543.8" y="524.6" width="22" height="2.1" fill="#383838"/>
</g>
<g clip-path="url(#c10)">
<rect x="235.7" y="532.1" width="142.4" height="109.0" fill="#7e7e7e"/>
<g transform="translate(235,532) scale(0.21022)" filter="url(#bl)">
<path d="M0,0 L75,0 L30,145 L0,200Z" fill="#5e5e5e" />
<path d="M105,0 L165,0 L135,70 L105,150 L75,230 L45,300 L0,340 L0,200 L30,145Z" fill="#636363" />
<path d="M500,60 L560,40 L685,100 L685,230 L620,200 L560,160 L500,120Z" fill="#a0a0a0" />
<ellipse cx="525" cy="130" rx="45" ry="25" fill="#707070" transform="rotate(30 525 130)" />
<path d="M552,30 C600,50 650,80 685,110" fill="none" stroke="#555" stroke-width="4" />
<ellipse cx="655" cy="175" rx="35" ry="55" fill="none" stroke="#555" stroke-width="5"/>
<circle cx="622" cy="7" r="12" fill="#333" />
<path d="M0,300 L120,300 L120,500 L0,500Z" fill="#747474" />
<path d="M120,372 L165,352 L210,312 L240,297 L300,312 L342,357 L342,492 L150,492 L125,447Z" fill="#aaaaaa" />
<ellipse cx="257" cy="374" rx="48" ry="50" fill="none" stroke="#5a5a5a" stroke-width="5"/>
<ellipse cx="542" cy="399" rx="90" ry="60" fill="#a2a2a2" transform="rotate(25 542 399)" stroke="#555" stroke-width="5"/>
<circle cx="575" cy="432" r="8" fill="#333" />
<ellipse cx="580" cy="297" rx="38" ry="40" fill="#686868" />
<ellipse cx="412" cy="465" rx="30" ry="35" fill="none" stroke="#555" stroke-width="4"/>
<circle cx="265" cy="155" r="8" fill="#333" />
<circle cx="255" cy="300" r="6" fill="#333" />
<circle cx="150" cy="85" r="9" fill="#c6c6c6" />
<circle cx="165" cy="155" r="10" fill="#c6c6c6" />
<circle cx="190" cy="125" r="12" fill="#c6c6c6" />
<circle cx="215" cy="110" r="10" fill="#c6c6c6" />
<circle cx="170" cy="210" r="12" fill="#c6c6c6" />
<circle cx="210" cy="215" r="12" fill="#c6c6c6" />
<circle cx="165" cy="310" r="10" fill="#c6c6c6" />
<circle cx="240" cy="270" r="14" fill="#c6c6c6" />
<circle cx="330" cy="215" r="12" fill="#c6c6c6" />
<circle cx="345" cy="160" r="10" fill="#c6c6c6" />
<circle cx="300" cy="100" r="7" fill="#c6c6c6" />
<circle cx="385" cy="40" r="8" fill="#c6c6c6" />
<circle cx="440" cy="185" r="10" fill="#c6c6c6" />
<circle cx="480" cy="165" r="8" fill="#c6c6c6" />
<circle cx="60" cy="440" r="12" fill="#c6c6c6" />
<circle cx="100" cy="400" r="10" fill="#c6c6c6" />
<circle cx="340" cy="325" r="9" fill="#c6c6c6" />
<circle cx="390" cy="230" r="8" fill="#c6c6c6" />
<circle cx="610" cy="60" r="10" fill="#c6c6c6" />
<circle cx="260" cy="30" r="8" fill="#c6c6c6" />
<circle cx="280" cy="150" r="8" fill="#c6c6c6" />
</g>
<rect x="235.7" y="532.1" width="142.4" height="109.0" filter="url(#spk)" opacity="0.45"/>
<rect x="235.7" y="532.1" width="142.4" height="109.0" filter="url(#spkw)" opacity="0.3"/>
<rect x="235.7" y="532.1" width="142.4" height="109.0" filter="url(#tex)" style="mix-blend-mode:overlay" opacity="0.14"/>
<g transform="translate(235,532) scale(0.21022)" filter="url(#bl)">
<path d="M75,0 L105,0 L40,150 L12,205 L0,218 L0,190 L30,145Z" fill="#b6b6b6" />
</g>
<rect x="235.7" y="532.1" width="142.4" height="109.0" filter="url(#tex)" style="mix-blend-mode:overlay" opacity="0.13"/>
<rect x="235.7" y="636.6" width="142.4" height="4.5" fill="#000"/>
<rect x="235.7" y="636.6" width="17.5" height="4.5" fill="#474747"/>
<rect x="253.2" y="636.6" width="22" height="2.1" fill="#383838"/>
</g>
<g clip-path="url(#c11)">
<rect x="381.1" y="532.1" width="142.3" height="109.0" fill="#8c8c8c"/>
<g transform="translate(380,532) scale(0.21022)" filter="url(#bl)">
<path d="M140,0 L250,0 L240,120 L220,250 L180,380 L100,420 L115,300 L110,250 L100,135 L125,60Z" fill="#767676" />
<ellipse cx="290" cy="120" rx="28" ry="25" fill="#cecece" />
<ellipse cx="302" cy="332" rx="18" ry="30" fill="#cecece" />
<ellipse cx="440" cy="30" rx="25" ry="15" fill="#c8c8c8" />
<ellipse cx="460" cy="275" rx="55" ry="42" fill="#d2d2d2" />
<circle cx="400" cy="350" r="20" fill="#c8c8c8" />
<ellipse cx="172" cy="478" rx="48" ry="18" fill="#cecece" />
<circle cx="360" cy="45" r="15" fill="#666" />
<circle cx="600" cy="110" r="20" fill="#666" />
<circle cx="620" cy="180" r="20" fill="#6e6e6e" />
<circle cx="600" cy="235" r="20" fill="#6e6e6e" />
<circle cx="650" cy="380" r="12" fill="#222" />
<circle cx="200" cy="430" r="20" fill="#777" />
<ellipse cx="410" cy="440" rx="40" ry="14" fill="#777" transform="rotate(30 410 440)" />
<ellipse cx="380" cy="230" rx="30" ry="20" fill="#777" />
<ellipse cx="490" cy="210" rx="20" ry="18" fill="#777" />
</g>
<rect x="381.1" y="532.1" width="142.3" height="109.0" filter="url(#spkf)" opacity="0.3"/>
<rect x="381.1" y="532.1" width="142.3" height="109.0" filter="url(#spkw)" opacity="0.3"/>
<rect x="381.1" y="532.1" width="142.3" height="109.0" filter="url(#texf)" style="mix-blend-mode:overlay" opacity="0.16"/>
<g transform="translate(380,532) scale(0.21022)" filter="url(#bl)">
<path d="M93,0 L165,0 L160,80 L170,160 L160,230 L140,300 L130,350 L105,420 L70,470 L0,510 L0,180 L14,165 L35,120 L60,60Z" fill="#5e5e5e" />
<clipPath id="mv1"><path d="M93,0 L165,0 L160,80 L170,160 L160,230 L140,300 L130,350 L105,420 L70,470 L0,510 L0,180 L14,165 L35,120 L60,60Z"/></clipPath>
<g clip-path="url(#mv1)">
<line x1="-200" y1="0" x2="-25" y2="520" stroke="#8c8c8c" stroke-width="6"/>
<line x1="-184" y1="0" x2="-9" y2="520" stroke="#8c8c8c" stroke-width="6"/>
<line x1="-168" y1="0" x2="7" y2="520" stroke="#8c8c8c" stroke-width="6"/>
<line x1="-152" y1="0" x2="23" y2="520" stroke="#8c8c8c" stroke-width="6"/>
<line x1="-136" y1="0" x2="39" y2="520" stroke="#8c8c8c" stroke-width="6"/>
<line x1="-120" y1="0" x2="55" y2="520" stroke="#8c8c8c" stroke-width="6"/>
<line x1="-104" y1="0" x2="71" y2="520" stroke="#8c8c8c" stroke-width="6"/>
<line x1="-88" y1="0" x2="87" y2="520" stroke="#8c8c8c" stroke-width="6"/>
<line x1="-72" y1="0" x2="103" y2="520" stroke="#8c8c8c" stroke-width="6"/>
<line x1="-56" y1="0" x2="119" y2="520" stroke="#8c8c8c" stroke-width="6"/>
<line x1="-40" y1="0" x2="135" y2="520" stroke="#8c8c8c" stroke-width="6"/>
<line x1="-24" y1="0" x2="151" y2="520" stroke="#8c8c8c" stroke-width="6"/>
<line x1="-8" y1="0" x2="167" y2="520" stroke="#8c8c8c" stroke-width="6"/>
<line x1="8" y1="0" x2="183" y2="520" stroke="#8c8c8c" stroke-width="6"/>
<line x1="24" y1="0" x2="199" y2="520" stroke="#8c8c8c" stroke-width="6"/>
<line x1="40" y1="0" x2="215" y2="520" stroke="#8c8c8c" stroke-width="6"/>
<line x1="56" y1="0" x2="231" y2="520" stroke="#8c8c8c" stroke-width="6"/>
<line x1="72" y1="0" x2="247" y2="520" stroke="#8c8c8c" stroke-width="6"/>
<line x1="88" y1="0" x2="263" y2="520" stroke="#8c8c8c" stroke-width="6"/>
<line x1="104" y1="0" x2="279" y2="520" stroke="#8c8c8c" stroke-width="6"/>
<line x1="120" y1="0" x2="295" y2="520" stroke="#8c8c8c" stroke-width="6"/>
<line x1="136" y1="0" x2="311" y2="520" stroke="#8c8c8c" stroke-width="6"/>
<line x1="152" y1="0" x2="327" y2="520" stroke="#8c8c8c" stroke-width="6"/>
<line x1="168" y1="0" x2="343" y2="520" stroke="#8c8c8c" stroke-width="6"/>
<line x1="184" y1="0" x2="359" y2="520" stroke="#8c8c8c" stroke-width="6"/>
</g>
<path d="M0,0 L93,0 L60,60 L35,120 L14,165 L0,180Z" fill="#cecece" />
</g>
<rect x="381.1" y="532.1" width="142.3" height="109.0" filter="url(#tex)" style="mix-blend-mode:overlay" opacity="0.13"/>
<rect x="381.1" y="636.6" width="142.3" height="4.5" fill="#000"/>
<rect x="381.1" y="636.6" width="17.5" height="4.5" fill="#474747"/>
<rect x="398.6" y="636.6" width="22" height="2.1" fill="#383838"/>
</g>
<g clip-path="url(#c12)">
<rect x="526.3" y="532.1" width="142.7" height="109.0" fill="#8c8c8c"/>
<g transform="translate(525,532) scale(0.21022)" filter="url(#bl)">
<path d="M270,30 L420,20 L440,130 L380,150 L260,140Z" fill="#707070" />
<path d="M230,200 L290,150 L400,145 L500,160 L530,220 L520,300 L480,340 L380,355 L300,350 L250,310 L220,250Z" fill="#cbcbcb" />
<path d="M120,0 L340,0 L345,80 L270,110 L260,140 L180,120 L130,60Z" fill="#c8c8c8" />
<ellipse cx="165" cy="22" rx="45" ry="20" fill="none" stroke="#444" stroke-width="6"/>
<ellipse cx="195" cy="95" rx="20" ry="15" fill="none" stroke="#444" stroke-width="6"/>
<ellipse cx="60" cy="110" rx="50" ry="60" fill="#6e6e6e" />
<path d="M0,330 L60,320 L70,420 L40,470 L0,480Z" fill="#c6c6c6" />
<path d="M160,380 L240,380 L250,480 L180,495Z" fill="#c6c6c6" />
<path d="M230,350 L360,360 L350,470 L240,470Z" fill="#6e6e6e" />
<path d="M500,180 L590,200 L590,340 L500,340Z" fill="#767676" />
<ellipse cx="420" cy="420" rx="60" ry="35" fill="#8a8a8a" stroke="#555" stroke-width="5"/>
<circle cx="480" cy="80" r="22" fill="#555" />
<path d="M300,350 C380,370 460,360 540,330 C580,300 600,240 590,190" fill="none" stroke="#555" stroke-width="6" />
</g>
<rect x="526.3" y="532.1" width="142.7" height="109.0" filter="url(#spkf)" opacity="0.45"/>
<rect x="526.3" y="532.1" width="142.7" height="109.0" filter="url(#spkw)" opacity="0.3"/>
<rect x="526.3" y="532.1" width="142.7" height="109.0" filter="url(#texf)" style="mix-blend-mode:overlay" opacity="0.3"/>
<rect x="526.3" y="636.6" width="142.7" height="4.5" fill="#000"/>
<rect x="526.3" y="636.6" width="17.5" height="4.5" fill="#474747"/>
<rect x="543.8" y="636.6" width="22" height="2.1" fill="#383838"/>
</g>
<g clip-path="url(#c20)">
<rect x="235.7" y="644" width="142.4" height="108.8" fill="#a2a2a2"/>
<g transform="translate(235,644) scale(0.21022)" filter="url(#bl)">
<ellipse cx="125" cy="165" rx="80" ry="70" fill="#9a9a9a" transform="rotate(-35 125 165)" stroke="#666" stroke-width="5"/>
<ellipse cx="185" cy="300" rx="62" ry="36" fill="#8e8e8e" transform="rotate(-12 185 300)" stroke="#666" stroke-width="5"/>
<ellipse cx="145" cy="478" rx="55" ry="26" fill="#8e8e8e" transform="rotate(-5 145 478)" stroke="#666" stroke-width="5"/>
<circle cx="290" cy="55" r="15" fill="#555" />
<circle cx="405" cy="200" r="12" fill="#555" />
<path d="M0,80 L40,80 L40,240 L0,240Z" fill="#8e8e8e" />
<path d="M420,0 L500,0 L530,266 L565,523 L470,523 L450,266Z" fill="#909090" />
</g>
<rect x="235.7" y="644" width="142.4" height="108.8" filter="url(#spk)" opacity="0.45"/>
<rect x="235.7" y="644" width="142.4" height="108.8" filter="url(#spkw)" opacity="0.3"/>
<rect x="235.7" y="644" width="142.4" height="108.8" filter="url(#tex)" style="mix-blend-mode:overlay" opacity="0.14"/>
<g transform="translate(235,644) scale(0.21022)" filter="url(#bl)">
<path d="M490,0 L559,0 L590,68 L617,171 L641,261 L665,322 L685,360 L685,523 L557,523 L523,266Z" fill="#717171" />
<path d="M520,0 L559,0 L590,68 L617,171 L641,261 L665,322 L685,360 L685,523 L610,523 L585,360 L570,250 L548,120Z" fill="#5e5e5e" />
<path d="M559,0 L685,0 L685,360 L665,322 L641,261 L617,171 L590,68Z" fill="#d2d2d2" />
<path d="M600,10 C620,30 630,50 640,70" fill="none" stroke="#888" stroke-width="3" />
</g>
<rect x="235.7" y="644" width="142.4" height="108.8" filter="url(#tex)" style="mix-blend-mode:overlay" opacity="0.13"/>
<rect x="235.7" y="748.3" width="142.4" height="4.5" fill="#000"/>
<rect x="235.7" y="748.3" width="17.5" height="4.5" fill="#474747"/>
<rect x="253.2" y="748.3" width="22" height="2.1" fill="#383838"/>
</g>
<g clip-path="url(#c21)">
<rect x="381.1" y="644" width="142.3" height="108.8" fill="#adadad"/>
<g transform="translate(380,644) scale(0.21022)" filter="url(#bl)">
<path d="M0,0 L420,0 L300,40 L100,90 L0,110Z" fill="#8e8e8e" />
<circle cx="290" cy="200" r="30" fill="#7c7c7c" />
<circle cx="370" cy="160" r="20" fill="#7c7c7c" />
<circle cx="230" cy="270" r="20" fill="#7c7c7c" />
<circle cx="330" cy="260" r="20" fill="#7c7c7c" />
<circle cx="150" cy="410" r="30" fill="#7c7c7c" />
<circle cx="420" cy="370" r="30" fill="#7c7c7c" />
<circle cx="500" cy="290" r="20" fill="#7c7c7c" />
<circle cx="90" cy="260" r="15" fill="#7c7c7c" />
<circle cx="300" cy="80" r="20" fill="#7c7c7c" />
<circle cx="60" cy="30" r="25" fill="#7c7c7c" />
<circle cx="250" cy="40" r="25" fill="#7c7c7c" />
<circle cx="350" cy="20" r="22" fill="#7c7c7c" />
<circle cx="240" cy="470" r="20" fill="#7c7c7c" />
<circle cx="460" cy="440" r="25" fill="#7c7c7c" />
<circle cx="80" cy="330" r="18" fill="#7c7c7c" />
<circle cx="360" cy="420" r="18" fill="#7c7c7c" />
<circle cx="150" cy="220" r="40" fill="#6c6c6c" />
<circle cx="450" cy="285" r="22" fill="#d0d0d0" />
<circle cx="370" cy="205" r="15" fill="#d0d0d0" />
<circle cx="190" cy="380" r="20" fill="#d0d0d0" />
<circle cx="380" cy="460" r="18" fill="#d0d0d0" />
<circle cx="60" cy="200" r="15" fill="#d0d0d0" />
<circle cx="110" cy="150" r="15" fill="#d0d0d0" />
<circle cx="300" cy="340" r="15" fill="#d0d0d0" />
<circle cx="200" cy="300" r="12" fill="#d0d0d0" />
</g>
<rect x="381.1" y="644" width="142.3" height="108.8" filter="url(#spkf)" opacity="0.35"/>
<rect x="381.1" y="644" width="142.3" height="108.8" filter="url(#spkw)" opacity="0.3"/>
<rect x="381.1" y="644" width="142.3" height="108.8" filter="url(#texf)" style="mix-blend-mode:overlay" opacity="0.32"/>
<g transform="translate(380,644) scale(0.21022)" filter="url(#bl)">
<path d="M430,0 L685,0 L685,523 L520,523 L480,300 L450,150Z" fill="#a4a4a4" />
<clipPath id="mv2"><path d="M430,0 L685,0 L685,523 L520,523 L480,300 L450,150Z"/></clipPath>
<g clip-path="url(#mv2)">
<line x1="150" y1="0" x2="400" y2="520" stroke="#646464" stroke-width="6"/>
<line x1="166" y1="0" x2="416" y2="520" stroke="#646464" stroke-width="6"/>
<line x1="182" y1="0" x2="432" y2="520" stroke="#646464" stroke-width="6"/>
<line x1="198" y1="0" x2="448" y2="520" stroke="#646464" stroke-width="6"/>
<line x1="214" y1="0" x2="464" y2="520" stroke="#646464" stroke-width="6"/>
<line x1="230" y1="0" x2="480" y2="520" stroke="#646464" stroke-width="6"/>
<line x1="246" y1="0" x2="496" y2="520" stroke="#646464" stroke-width="6"/>
<line x1="262" y1="0" x2="512" y2="520" stroke="#646464" stroke-width="6"/>
<line x1="278" y1="0" x2="528" y2="520" stroke="#646464" stroke-width="6"/>
<line x1="294" y1="0" x2="544" y2="520" stroke="#646464" stroke-width="6"/>
<line x1="310" y1="0" x2="560" y2="520" stroke="#646464" stroke-width="6"/>
<line x1="326" y1="0" x2="576" y2="520" stroke="#646464" stroke-width="6"/>
<line x1="342" y1="0" x2="592" y2="520" stroke="#646464" stroke-width="6"/>
<line x1="358" y1="0" x2="608" y2="520" stroke="#646464" stroke-width="6"/>
<line x1="374" y1="0" x2="624" y2="520" stroke="#646464" stroke-width="6"/>
<line x1="390" y1="0" x2="640" y2="520" stroke="#646464" stroke-width="6"/>
<line x1="406" y1="0" x2="656" y2="520" stroke="#646464" stroke-width="6"/>
<line x1="422" y1="0" x2="672" y2="520" stroke="#646464" stroke-width="6"/>
<line x1="438" y1="0" x2="688" y2="520" stroke="#646464" stroke-width="6"/>
<line x1="454" y1="0" x2="704" y2="520" stroke="#646464" stroke-width="6"/>
<line x1="470" y1="0" x2="720" y2="520" stroke="#646464" stroke-width="6"/>
<line x1="486" y1="0" x2="736" y2="520" stroke="#646464" stroke-width="6"/>
<line x1="502" y1="0" x2="752" y2="520" stroke="#646464" stroke-width="6"/>
<line x1="518" y1="0" x2="768" y2="520" stroke="#646464" stroke-width="6"/>
<line x1="534" y1="0" x2="784" y2="520" stroke="#646464" stroke-width="6"/>
<line x1="550" y1="0" x2="800" y2="520" stroke="#646464" stroke-width="6"/>
<line x1="566" y1="0" x2="816" y2="520" stroke="#646464" stroke-width="6"/>
<line x1="582" y1="0" x2="832" y2="520" stroke="#646464" stroke-width="6"/>
<line x1="598" y1="0" x2="848" y2="520" stroke="#646464" stroke-width="6"/>
<line x1="614" y1="0" x2="864" y2="520" stroke="#646464" stroke-width="6"/>
<line x1="630" y1="0" x2="880" y2="520" stroke="#646464" stroke-width="6"/>
<line x1="646" y1="0" x2="896" y2="520" stroke="#646464" stroke-width="6"/>
<line x1="662" y1="0" x2="912" y2="520" stroke="#646464" stroke-width="6"/>
<line x1="678" y1="0" x2="928" y2="520" stroke="#646464" stroke-width="6"/>
<line x1="694" y1="0" x2="944" y2="520" stroke="#646464" stroke-width="6"/>
</g>
</g>
<rect x="381.1" y="644" width="142.3" height="108.8" filter="url(#tex)" style="mix-blend-mode:overlay" opacity="0.13"/>
<rect x="381.1" y="748.3" width="142.3" height="4.5" fill="#000"/>
<rect x="381.1" y="748.3" width="17.5" height="4.5" fill="#474747"/>
<rect x="398.6" y="748.3" width="22" height="2.1" fill="#383838"/>
</g>
<g clip-path="url(#c22)">
<rect x="526.3" y="644" width="142.7" height="108.8" fill="#bcbcbc"/>
<g transform="translate(525,644) scale(0.21022)" filter="url(#bl)">
<path d="M0,160 L60,170 L100,230 L110,320 L80,370 L30,380 L0,370Z" fill="#686868" />
<ellipse cx="340" cy="230" rx="72" ry="90" fill="#a6a6a6" stroke="#555" stroke-width="7"/>
<ellipse cx="175" cy="415" rx="60" ry="45" fill="#7c7c7c" />
<ellipse cx="625" cy="330" rx="55" ry="42" fill="#7a7a7a" />
<ellipse cx="540" cy="125" rx="40" ry="30" fill="#5c5c5c" transform="rotate(20 540 125)" />
<circle cx="570" cy="30" r="28" fill="#5c5c5c" />
<circle cx="660" cy="30" r="25" fill="#8a8a8a" />
<circle cx="510" cy="50" r="25" fill="#777" />
<ellipse cx="100" cy="40" rx="40" ry="25" fill="#8c8c8c" />
<circle cx="300" cy="110" r="30" fill="#8e8e8e" />
<ellipse cx="530" cy="210" rx="80" ry="70" fill="#d0d0d0" stroke="#666" stroke-width="5"/>
<ellipse cx="420" cy="420" rx="50" ry="40" fill="#9a9a9a" />
<ellipse cx="40" cy="460" rx="40" ry="25" fill="#9a9a9a" />
<ellipse cx="200" cy="120" rx="40" ry="20" fill="#a0a0a0" transform="rotate(20 200 120)" />
<ellipse cx="150" cy="260" rx="30" ry="18" fill="#9c9c9c" transform="rotate(-30 150 260)" />
<ellipse cx="470" cy="370" rx="50" ry="20" fill="#9c9c9c" transform="rotate(10 470 370)" />
<ellipse cx="250" cy="330" rx="35" ry="15" fill="#a0a0a0" />
<ellipse cx="600" cy="470" rx="40" ry="18" fill="#9c9c9c" />
<ellipse cx="330" cy="470" rx="50" ry="20" fill="#a0a0a0" />
<ellipse cx="430" cy="60" rx="35" ry="18" fill="#a0a0a0" />
<ellipse cx="230" cy="20" rx="30" ry="14" fill="#a0a0a0" />
<ellipse cx="120" cy="140" rx="25" ry="14" fill="#a0a0a0" transform="rotate(40 120 140)" />
<ellipse cx="500" cy="300" rx="30" ry="14" fill="#9c9c9c" transform="rotate(-20 500 300)" />
<clipPath id="cr1"><ellipse cx="340" cy="230" rx="66" ry="84"/></clipPath><g clip-path="url(#cr1)"><line x1="260" y1="146" x2="420" y2="154" stroke="#565656" stroke-width="7"/><line x1="260" y1="161" x2="420" y2="169" stroke="#565656" stroke-width="7"/><line x1="260" y1="176" x2="420" y2="184" stroke="#565656" stroke-width="7"/><line x1="260" y1="191" x2="420" y2="199" stroke="#565656" stroke-width="7"/><line x1="260" y1="206" x2="420" y2="214" stroke="#565656" stroke-width="7"/><line x1="260" y1="221" x2="420" y2="229" stroke="#565656" stroke-width="7"/><line x1="260" y1="236" x2="420" y2="244" stroke="#565656" stroke-width="7"/><line x1="260" y1="251" x2="420" y2="259" stroke="#565656" stroke-width="7"/><line x1="260" y1="266" x2="420" y2="274" stroke="#565656" stroke-width="7"/><line x1="260" y1="281" x2="420" y2="289" stroke="#565656" stroke-width="7"/><line x1="260" y1="296" x2="420" y2="304" stroke="#565656" stroke-width="7"/><line x1="260" y1="311" x2="420" y2="319" stroke="#565656" stroke-width="7"/></g>
</g>
<rect x="526.3" y="644" width="142.7" height="108.8" filter="url(#spkf)" opacity="0.35"/>
<rect x="526.3" y="644" width="142.7" height="108.8" filter="url(#spkw)" opacity="0.3"/>
<rect x="526.3" y="644" width="142.7" height="108.8" filter="url(#texf)" style="mix-blend-mode:overlay" opacity="0.32"/>
<rect x="526.3" y="748.3" width="142.7" height="4.5" fill="#000"/>
<rect x="526.3" y="748.3" width="17.5" height="4.5" fill="#474747"/>
<rect x="543.8" y="748.3" width="22" height="2.1" fill="#383838"/>
</g>
<rect x="422" y="446.3" width="56.8" height="42.7" fill="none" stroke="#000" stroke-width="1.5"/>
<line x1="478.80" y1="446.30" x2="526.30" y2="420.40" stroke="#000" stroke-width="1.5"/>
<line x1="478.80" y1="489.00" x2="526.30" y2="529.10" stroke="#000" stroke-width="1.5"/>
<rect x="447.3" y="569.4" width="55.7" height="42.9" fill="none" stroke="#000" stroke-width="1.5"/>
<line x1="503.00" y1="569.40" x2="526.30" y2="532.10" stroke="#000" stroke-width="1.5"/>
<line x1="503.00" y1="612.30" x2="526.30" y2="641.10" stroke="#000" stroke-width="1.5"/>
<rect x="412.6" y="668.2" width="57.4" height="42.6" fill="none" stroke="#000" stroke-width="1.5"/>
<line x1="470.00" y1="668.20" x2="526.30" y2="644.00" stroke="#000" stroke-width="1.5"/>
<line x1="470.00" y1="710.80" x2="526.30" y2="752.80" stroke="#000" stroke-width="1.5"/>
<text x="302.70" y="415.90" font-size="12.2" text-anchor="middle">×5.0k</text>
<text x="465.60" y="415.90" font-size="12.2" text-anchor="middle">×15.0k</text>
<text x="602.70" y="415.90" font-size="12.2" text-anchor="middle">×40.0k</text>
<text x="229.50" y="465.60" font-size="12.2" text-anchor="end">NC</text>
<text x="229.30" y="579.90" font-size="12.2" text-anchor="end">PC</text>
<text x="229.30" y="706.60" font-size="12.2" text-anchor="end">LTE300</text>
</g></svg></div></body></html>
